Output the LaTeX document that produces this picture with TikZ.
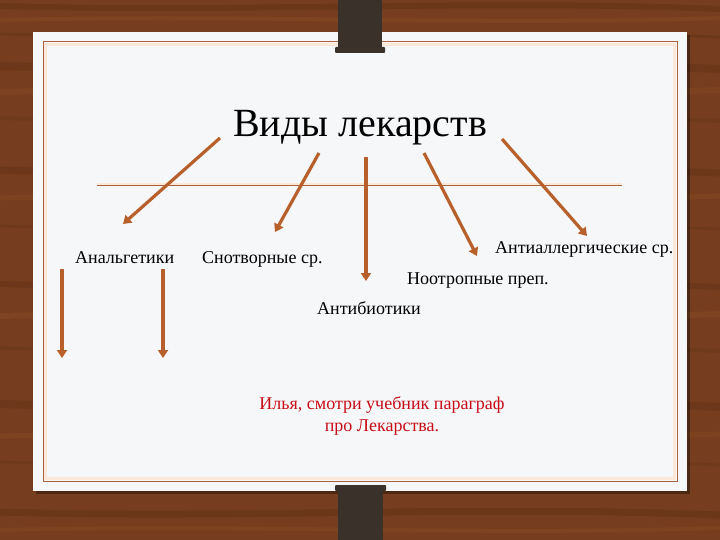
\documentclass[tikz,border=0pt]{standalone}
\usepackage{fontspec}
\setmainfont{Liberation Serif}
\usetikzlibrary{arrows.meta}
\definecolor{wood}{RGB}{118,62,30}
\definecolor{wooddark}{RGB}{86,42,18}
\definecolor{woodlight}{RGB}{146,82,40}
\definecolor{paper}{RGB}{246,247,248}
\definecolor{frameline}{RGB}{170,98,58}
\definecolor{framepeach}{RGB}{252,232,216}
\definecolor{clipcol}{RGB}{58,50,42}
\definecolor{arrowcol}{RGB}{184,96,44}
\definecolor{notered}{RGB}{200,12,24}
\tikzset{
  arrowline/.style={line width=3.2pt, color=arrowcol, -{Triangle[width=10pt,length=8pt]}},
  drugname/.style={font=\fontsize{18}{22}\selectfont, inner sep=0pt, anchor=base west},
}

\begin{document}
\begin{tikzpicture}[x=1pt,y=-1pt]
			%%%%% START %%%%%
			\useasboundingbox (0,0) rectangle (720,540);
			
			% wood behind the sheet
			\fill[wood] (0,0) rectangle (720,540);
			\foreach \y/\o/\w in {6/.35/6, 34/.25/3, 66/.3/8, 118/.2/4, 170/.3/7, 226/.2/3, 284/.3/6, 348/.2/4, 404/.3/8, 462/.2/3, 512/.35/7}
				\draw[wooddark, line width=\w pt, opacity=\o] (0,\y) .. controls (240,\y+7) and (480,\y-7) .. (720,\y+3);
			\foreach \y/\o/\w in {20/.3/4, 92/.25/6, 198/.25/5, 316/.3/6, 436/.25/5, 530/.3/4}
				\draw[woodlight, line width=\w pt, opacity=\o] (0,\y) .. controls (260,\y-6) and (470,\y+6) .. (720,\y-2);
			
			% sheet
			\fill[black, opacity=.35] (36,35) rectangle (690,494);
			\fill[paper] (33,32) rectangle (687,491);
			\draw[framepeach, line width=3pt] (45.5,44.5) rectangle (674.5,478.5);
			\draw[frameline, line width=1pt] (43,42) rectangle (677,481);
			
			% clips
			\fill[clipcol] (338,0) rectangle (382,50);
			\fill[clipcol, rounded corners=1pt] (335,47) rectangle (385,53);
			\fill[clipcol, rounded corners=1pt] (335,485) rectangle (386,491);
			\fill[clipcol] (338,489) rectangle (383,540);
			
			% title and rule
			\node[font=\fontsize{40}{48}\selectfont, inner sep=0pt, anchor=base] (title) at (360,137) {Виды лекарств};
			\coordinate (rulel) at (97,185);
			\coordinate (ruler) at (622,185);
			\draw[framepeach, line width=3pt] (rulel) -- (ruler);
			\draw[frameline, line width=0.8pt] (rulel) -- (ruler);
			
			% kinds
			\node[drugname] (analg) at (75,263) {Анальгетики};
			\node[drugname] (snotv) at (202,263) {Снотворные ср.};
			\node[drugname] (antiall) at (495,254) {Антиаллергические ср.};
			\node[drugname] (nootr) at (407,284) {Ноотропные преп.};
			\node[drugname] (antib) at (317,314) {Антибиотики};
			
			\node[font=\fontsize{18}{22}\selectfont, text=notered, align=center, inner sep=0pt, anchor=north] (note) at (382,396) {Илья, смотри учебник параграф\\про Лекарства.};
			
			% arrows
			\coordinate (s1) at (220,138);
			\coordinate (e1) at (123,224);
			\coordinate (s2) at (319,153);
			\coordinate (e2) at (275,232);
			\coordinate (s3) at (366,157);
			\coordinate (e3) at (366,281);
			\coordinate (s4) at (424,153);
			\coordinate (e4) at (477,256);
			\coordinate (s5) at (502,139);
			\coordinate (e5) at (587,236);
			\coordinate (s6) at (62,269);
			\coordinate (e6) at (62,358);
			\coordinate (s7) at (163,269);
			\coordinate (e7) at (163,358);
			
			\draw[arrowline] (s1) -- (e1);
			\draw[arrowline] (s2) -- (e2);
			\draw[arrowline] (s3) -- (e3);
			\draw[arrowline] (s4) -- (e4);
			\draw[arrowline] (s5) -- (e5);
			\draw[arrowline] (s6) -- (e6);
			\draw[arrowline] (s7) -- (e7);
			
			%%%%% END %%%%%
\end{tikzpicture}
\end{document}
